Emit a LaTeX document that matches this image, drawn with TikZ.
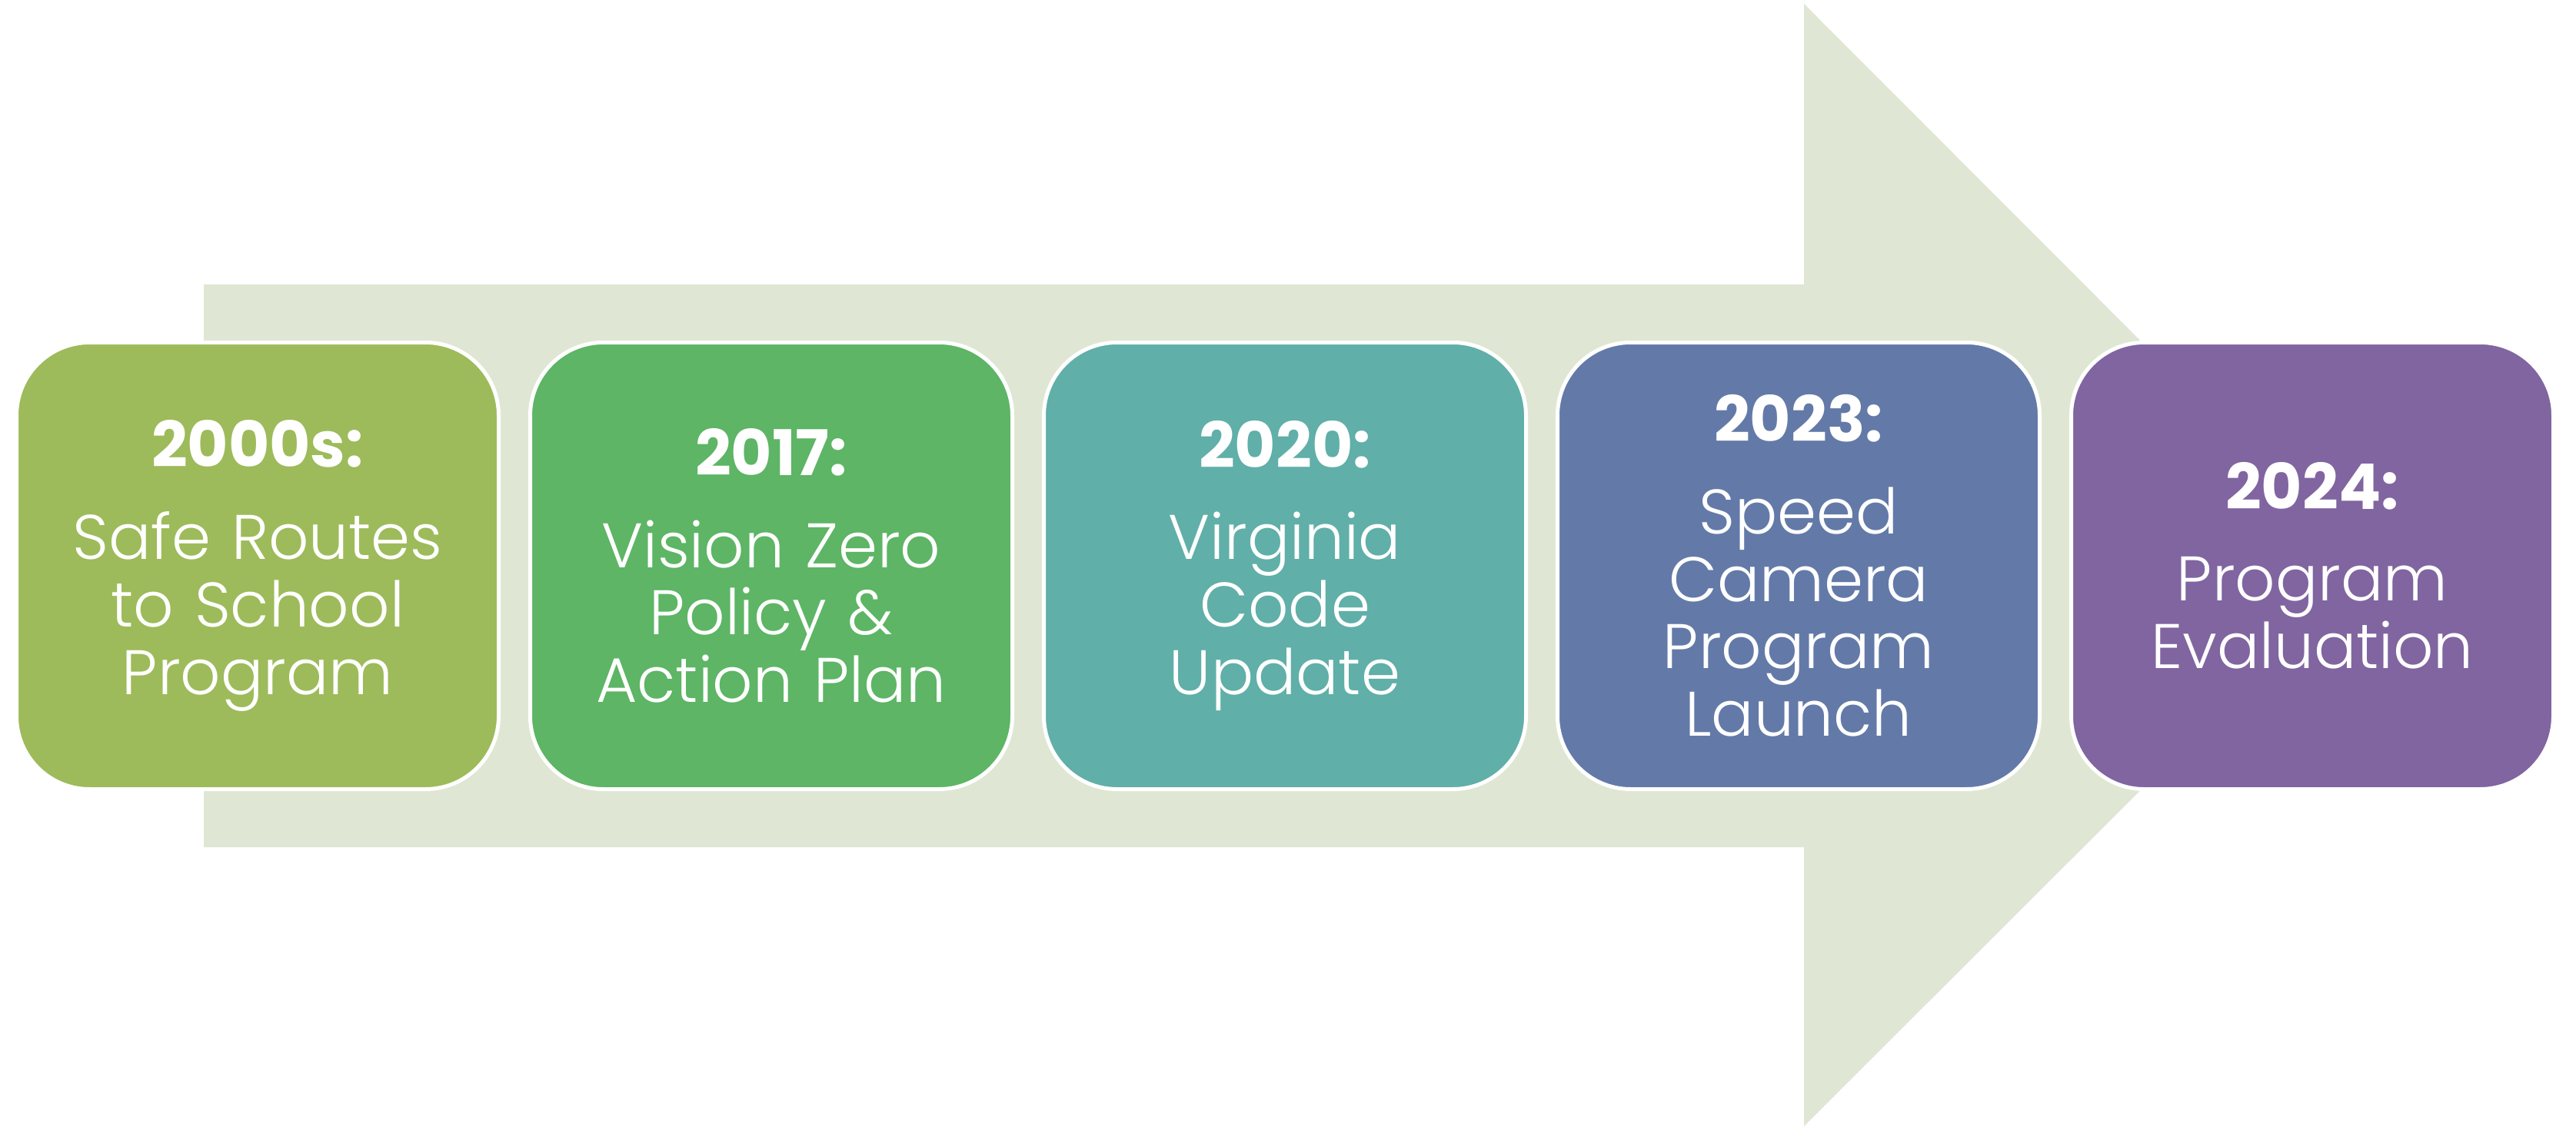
\documentclass[tikz,border=0pt]{standalone}
\usepackage{fontspec}
\setmainfont{Poppins}
\newfontfamily\thinfont{Poppins}[UprightFont=* Light, BoldFont=* Bold]
\usetikzlibrary{positioning}

\definecolor{bandgreen}{RGB}{223,231,212}
\definecolor{oliveyear}{RGB}{157,187,90}
\definecolor{greenyear}{RGB}{93,181,101}
\definecolor{tealyear}{RGB}{96,175,168}
\definecolor{blueyear}{RGB}{99,122,168}
\definecolor{purpleyear}{RGB}{128,101,160}

\begin{document}
\begin{tikzpicture}[
    yearbox/.style={rectangle, rounded corners=0.95cm, draw=white, line width=0.05cm,
        outer sep=0pt, minimum width=6.27cm, minimum height=5.81cm, text width=5.9cm,
        align=center, text=white, font=\fontsize{23.3}{25}\selectfont\thinfont},
    node distance=0.41cm
    ]
        \useasboundingbox (0,0) rectangle (33.5,14.65);

        %Arrow
        \fill[bandgreen] (2.65,10.95) -- (23.46,10.95) -- (23.46,14.60)
            -- (30.76,7.29) -- (23.46,0) -- (23.46,3.63) -- (2.65,3.63) -- cycle;

        %Nodes
        \node[yearbox, fill=oliveyear]
            (y2000s)    at (3.35,7.29)      {\textbf{2000s:}\\[9pt]Safe Routes\\to School\\Program};
        \node[yearbox, fill=greenyear]
            (y2017)     [right=of y2000s]   {\textbf{2017:}\\[9pt]Vision Zero\\Policy \&\\Action Plan};
        \node[yearbox, fill=tealyear]
            (y2020)     [right=of y2017]    {\textbf{2020:}\\[9pt]Virginia\\Code\\Update};
        \node[yearbox, fill=blueyear]
            (y2023)     [right=of y2020]    {\textbf{2023:}\\[9pt]Speed\\Camera\\Program\\Launch};
        \node[yearbox, fill=purpleyear]
            (y2024)     [right=of y2023]    {\textbf{2024:}\\[9pt]Program\\Evaluation};
    \end{tikzpicture}
\end{document}
